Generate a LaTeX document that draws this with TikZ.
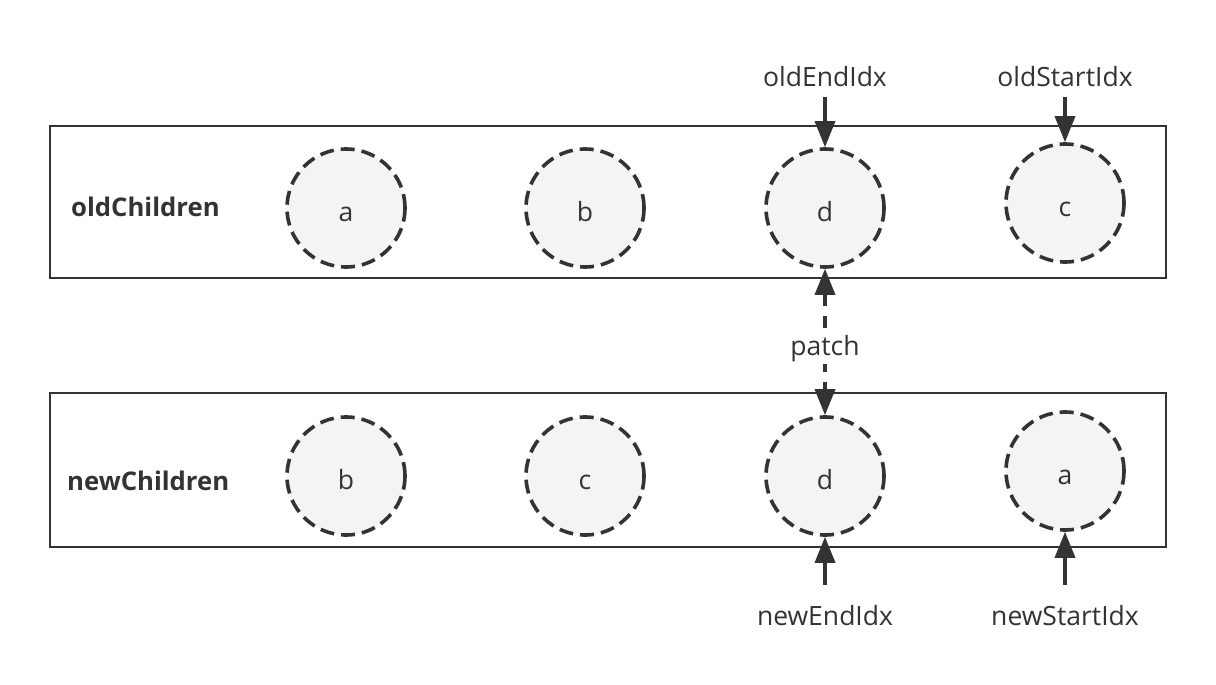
\documentclass[tikz,border=0pt]{standalone}
\usepackage{fontspec}
\setmainfont{Open Sans}
\usetikzlibrary{arrows.meta}
\definecolor{ink}{HTML}{333333}
\definecolor{cfill}{HTML}{F4F4F4}
\begin{document}
\begin{tikzpicture}[x=1pt,y=-1pt,
  box/.style={draw=ink, line width=2pt, minimum width=1116pt, inner sep=0pt},
  elem/.style={circle, draw=ink, fill=cfill, line width=3.6pt, dash pattern=on 14pt off 7pt,
    minimum size=118pt, inner sep=0pt, text=ink, font=\fontsize{26.5}{27}\selectfont,
    text height=26pt, text depth=0pt},
  lbl/.style={text=ink, font=\fontsize{26.5}{30}\selectfont, inner sep=0pt},
  title/.style={text=ink, font=\fontsize{25.7}{30}\selectfont\bfseries, inner sep=0pt, anchor=base west},
  arr/.style={draw=ink, line width=3.5pt, -{Triangle[length=26pt,width=20pt]}},
  patcharr/.style={draw=ink, line width=3.5pt, dash pattern=on 12pt off 10pt,
    {Triangle[length=26pt,width=20pt]}-{Triangle[length=26pt,width=20pt]}}
]
\useasboundingbox (0,0) rectangle (1216,685);
\fill[white] (0,0) rectangle (1216,685);

% containers
\node[box, minimum height=152pt] (oldBox) at (608,202) {};
\node[box, minimum height=154pt] (newBox) at (608,470) {};

\node[title] (oldT) at (71,216) {oldChildren};
\node[title] (newT) at (67,490) {newChildren};

% old children
\node[elem] (oA) at (346,208) {a};
\node[elem] (oB) at (585,208) {b};
\node[elem] (oD) at (825,208) {d};
\node[elem] (oC) at (1065,203) {c};

% new children
\node[elem] (nB) at (346,476) {b};
\node[elem] (nC) at (585,476) {c};
\node[elem] (nD) at (825,476) {d};
\node[elem] (nA) at (1065,471) {a};

% index labels
\node[lbl, anchor=base] (lOE) at (825,86) {oldEndIdx};
\node[lbl, anchor=base] (lOS) at (1065,86) {oldStartIdx};
\node[lbl, anchor=base] (lNE) at (825,625) {newEndIdx};
\node[lbl, anchor=base] (lNS) at (1065,625) {newStartIdx};

\draw[arr, shorten <=11pt] (lOE) -- (oD);
\draw[arr, shorten <=11pt] (lOS) -- (oC);
\draw[arr, shorten <=20pt] (lNE) -- (nD);
\draw[arr, shorten <=20pt] (lNS) -- (nA);

% patch
\draw[patcharr] (oD) -- (nD);
\node[lbl, anchor=base, fill=white, inner sep=3pt] (patch) at (825,355) {patch};
\end{tikzpicture}
\end{document}
